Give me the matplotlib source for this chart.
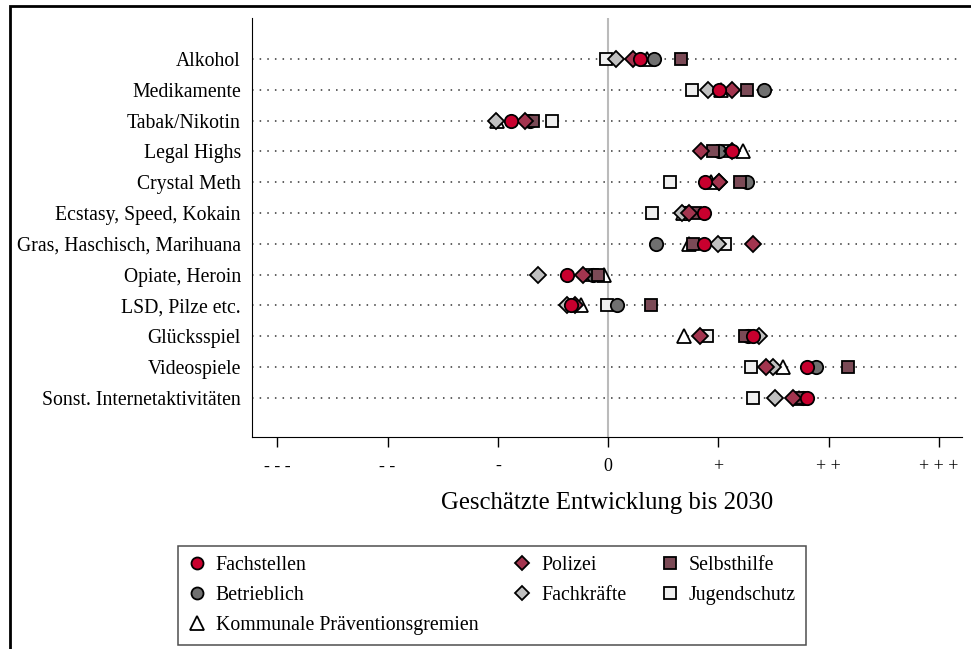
import matplotlib
matplotlib.use("Agg")
import matplotlib.pyplot as plt
from matplotlib.lines import Line2D
from matplotlib.patches import Rectangle

plt.rcParams['font.family'] = ['Liberation Serif', 'DejaVu Serif']

# Kategorien (von oben nach unten)
kategorien = ["Alkohol", "Medikamente", "Tabak/Nikotin", "Legal Highs", "Crystal Meth",
              "Ecstasy, Speed, Kokain", "Gras, Haschisch, Marihuana", "Opiate, Heroin",
              "LSD, Pilze etc.", "Glücksspiel", "Videospiele", "Sonst. Internetaktivitäten"]

# geschätzte Entwicklung je Gruppe (-3 = "- - -", +3 = "+ + +")
fachstellen  = [0.29, 1.01, -0.88, 1.12, 0.88, 0.87, 0.87, -0.37, -0.34, 1.31, 1.80, 1.80]
betrieblich  = [0.42, 1.41, -0.71, 1.01, 1.26, 0.70, 0.43, -0.14, 0.08, 1.27, 1.89, 1.77]
kommunale    = [0.35, 1.02, -1.01, 1.22, 0.93, 0.68, 0.73, -0.04, -0.25, 0.69, 1.59, 1.73]
polizei      = [0.23, 1.12, -0.75, 0.84, 1.01, 0.73, 1.31, -0.23, -0.30, 0.83, 1.43, 1.68]
fachkraefte  = [0.07, 0.91, -1.02, 1.12, 1.01, 0.67, 1.00, -0.64, -0.37, 1.37, 1.50, 1.51]
selbsthilfe  = [0.66, 1.26, -0.68, 0.95, 1.20, 0.79, 0.77, -0.09, 0.39, 1.24, 2.18, 1.74]
jugendschutz = [-0.02, 0.76, -0.51, 1.04, 0.56, 0.40, 1.06, -0.15, -0.01, 0.90, 1.30, 1.31]

xticks = [-3, -2, -1, 0, 1, 2, 3]
xticklabels = ["- - -", "- -", "-", "0", "+", "+ +", "+ + +"]

# (name, werte, marker, farbe, groesse) in Zeichenreihenfolge
serien = [
    ("Jugendschutz", jugendschutz, "s", "#efefef", 9.2),
    ("Kommunale Präventionsgremien", kommunale, "^", "white", 10.5),
    ("Betrieblich", betrieblich, "o", "#707070", 9.6),
    ("Selbsthilfe", selbsthilfe, "s", "#7b4a56", 9.2),
    ("Fachkräfte", fachkraefte, "D", "#c0c0c0", 8.4),
    ("Polizei", polizei, "D", "#a3354f", 8.4),
    ("Fachstellen", fachstellen, "o", "#c8002e", 9.6),
]

fig = plt.figure(figsize=(9.71, 6.49), dpi=100)
ax = fig.add_axes([252/971, 1-437/649, (962-252)/971, (437-18)/649])

y = list(range(1, len(kategorien)+1))
ax.hlines(y, -3.23, 3.21, colors="#333333", linestyles=(0, (1, 4)), linewidth=1.1, zorder=1)
ax.axvline(0, color="#bbbbbb", linewidth=1.5, zorder=1.5)

for name, werte, m, c, s in serien:
    ax.plot(werte, y, linestyle="none", marker=m, markersize=s, markerfacecolor=c,
            markeredgecolor="black", markeredgewidth=1.3, zorder=3)

ax.set_xlim(-3.23, 3.21)
ax.set_ylim(13.27, -0.33)
ax.set_yticks(y)
ax.set_yticklabels(kategorien, fontsize=14.2)
ax.tick_params(axis="y", length=0, pad=8)
ax.set_xticks(xticks)
ax.set_xticklabels(xticklabels, fontsize=13)
ax.tick_params(axis="x", length=7, width=1, pad=8)
ax.spines["top"].set_visible(False)
ax.spines["right"].set_visible(False)
ax.set_xlabel("Geschätzte Entwicklung bis 2030", fontsize=17.8, labelpad=12)

# Legende
legend_order = ["Fachstellen", "Betrieblich", "Kommunale Präventionsgremien",
                "Polizei", "Fachkräfte", "Selbsthilfe", "Jugendschutz"]
lookup = {s[0]: s for s in serien}
handles = []
for n in legend_order:
    _, _, m, c, s = lookup[n]
    handles.append(Line2D([], [], linestyle="none", marker=m, markersize=s*0.9,
                          markerfacecolor=c, markeredgecolor="black", markeredgewidth=1.3))
leg = fig.legend(handles, legend_order, ncol=3, loc="upper left",
                 bbox_to_anchor=(178/971, 1-546/649), borderaxespad=0,
                 fontsize=14.3, frameon=True, fancybox=False, edgecolor="#222222",
                 handlelength=0.9, handletextpad=0.5, columnspacing=1.75,
                 labelspacing=0.56, borderpad=0.5)
leg.get_frame().set_linewidth(1.1)

# äußerer Rahmen
fig.patches.append(Rectangle((10/971, -0.1), 1.2, 1-6/649+0.1, transform=fig.transFigure,
                             fill=False, edgecolor="black", linewidth=2))

fig.savefig("out.png", dpi=100)
